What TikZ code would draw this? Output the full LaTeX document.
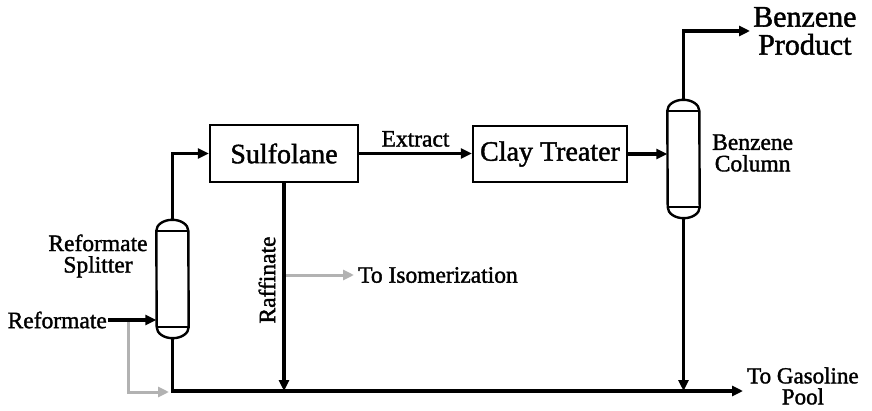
\documentclass[tikz,border=0pt]{standalone}
\usepackage{fontspec}
\setmainfont{Liberation Serif}[FakeBold=1.5]
\usetikzlibrary{arrows.meta,calc}

% outline of a distillation column drawn round a (blank) node
\newcommand\columnshape[1]{%
  \draw[line width=2.4pt]
    ($(#1.north west)+(0,-11)$) arc[start angle=180,end angle=0,x radius=16,y radius=11]
    -- ($(#1.south east)+(0,11)$) arc[start angle=0,end angle=-180,x radius=16,y radius=11]
    -- cycle;
  \draw[line width=2pt] ($(#1.north west)+(0,-11)$) -- ($(#1.north east)+(0,-11)$);
  \draw[line width=2pt] ($(#1.south west)+(0,11)$) -- ($(#1.south east)+(0,11)$);
}

\begin{document}
\begin{tikzpicture}[x=1pt,y=1pt,
  flow/.style={line width=3.5pt,-{Triangle[length=11pt,width=10pt]}},
  grayflow/.style={line width=3pt,draw=black!30,-{Triangle[length=11pt,width=10pt,fill=black!30]}},
  unitbox/.style={draw,line width=2.4pt,minimum width=148pt,minimum height=57pt,inner sep=0pt,
    font=\fontsize{28}{30}\selectfont},
  colbody/.style={minimum width=32pt,minimum height=118pt,inner sep=0pt},
  lbl/.style={font=\fontsize{23.5}{21.5}\selectfont,align=center,inner sep=0pt},
]
\useasboundingbox (0,0) rectangle (872,410);

% equipment
\node[colbody] (split) at (172.5,131) {};
\node[colbody] (bcol) at (683.5,251) {};
\columnshape{split}
\columnshape{bcol}
\node[unitbox] (sulf) at (284,256.5) {Sulfolane};
\node[unitbox,minimum width=154pt,minimum height=56pt] (clay) at (550,256) {Clay Treater};

% labels
\node[lbl,anchor=east,inner sep=1pt] (ref) at (108,90) {Reformate};
\node[lbl] (splittxt) at (98,154) {Reformate\\Splitter};
\node[lbl,anchor=west] (bcoltxt) at (712,257) {Benzene\\Column};
\node[anchor=west,inner sep=3pt,align=center,font=\fontsize{30}{28}\selectfont] (bprod) at (750,379) {Benzene\\Product};
\node[lbl,anchor=west,font=\fontsize{23}{21}\selectfont] (gastxt) at (747,24) {To Gasoline\\Pool};
\node[lbl,anchor=west,inner sep=4pt] (iso) at (354,135) {To Isomerization};
\node[lbl,rotate=90] (raff) at (267,130) {Raffinate};

\coordinate (gas) at (743,19);
\coordinate (byp) at (128,90);
\coordinate (bypend) at (169,18);
\coordinate (raffmid) at (284,135);

% gray side streams
\draw[grayflow] (byp) |- (bypend);
\draw[grayflow] (raffmid) -- (iso.west);

% main streams
\draw[flow] (ref.east) -- (ref.east -| split.west);
\draw[flow] (split.north) |- (sulf.west);
\draw[flow] (sulf.east) -- node[above=5pt,lbl] (ext) {Extract} (sulf.east -| clay.west);
\draw[flow] (clay.east) -- (clay.east -| bcol.west);
\draw[flow] (bcol.north) |- (bprod.west);
\draw[flow] (bcol.south) -- (bcol.south |- gas);
\draw[flow] (sulf.south) -- (sulf.south |- gas);
\draw[flow] (split.south) |- (gas);
\end{tikzpicture}
\end{document}
